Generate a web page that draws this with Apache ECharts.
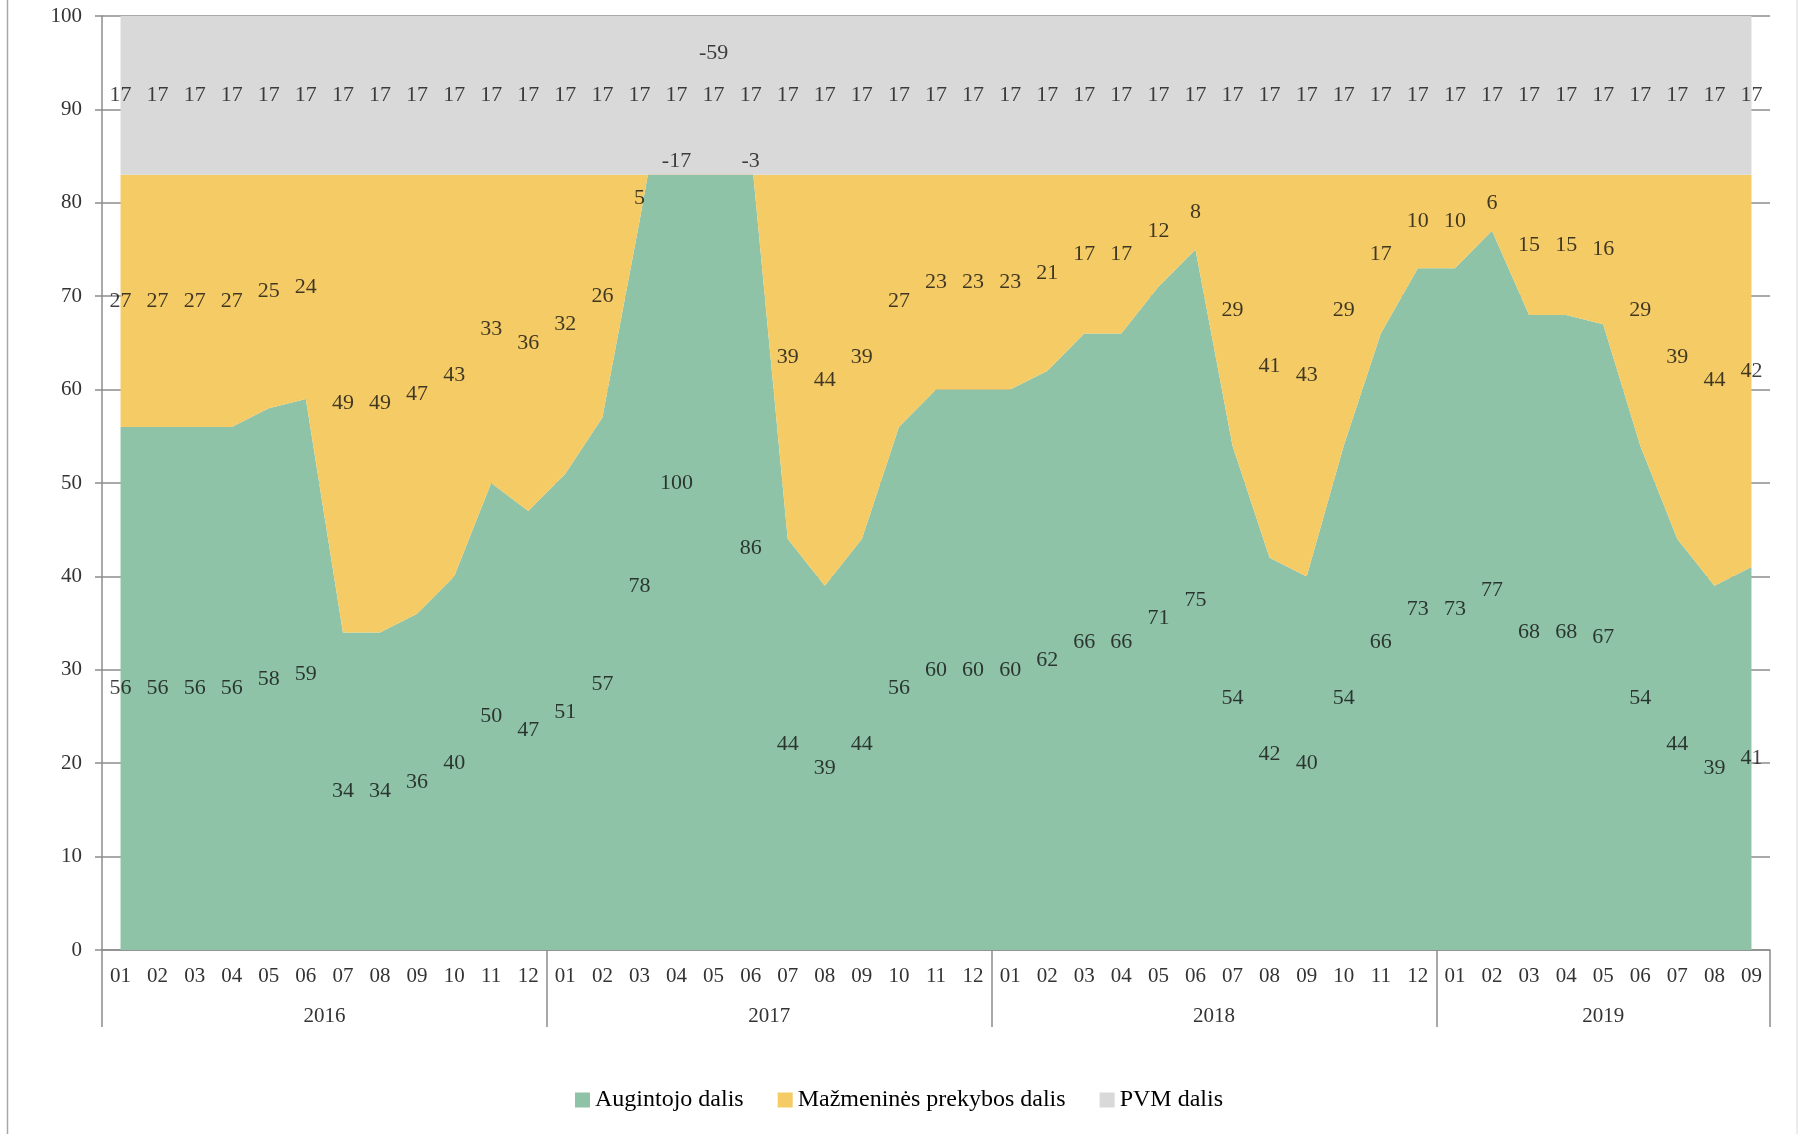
<!DOCTYPE html>
<html>
<head>
<meta charset="utf-8">
<title>Augintojo, mažmeninės prekybos ir PVM dalis</title>
<script src="https://cdn.jsdelivr.net/npm/echarts@6/dist/echarts.min.js"></script>
<style>
  html, body { margin: 0; padding: 0; background: #fff; }
  #chart { width: 1798px; height: 1134px; }
</style>
</head>
<body>
<div id="chart"></div>
<script>
// metai ir menesiai (ketvirta metai - tik iki 09)
const years = ['2016', '2017', '2018', '2019']
const monthsPerYear = [12, 12, 12, 9]
const months = [
  '01', '02', '03', '04', '05', '06', '07', '08', '09', '10', '11', '12',
  '01', '02', '03', '04', '05', '06', '07', '08', '09', '10', '11', '12',
  '01', '02', '03', '04', '05', '06', '07', '08', '09', '10', '11', '12',
  '01', '02', '03', '04', '05', '06', '07', '08', '09'
]

// dalys, %
const augintojo = [
  56, 56, 56, 56, 58, 59, 34, 34, 36, 40, 50, 47,
  51, 57, 78, 100, 142, 86, 44, 39, 44, 56, 60, 60,
  60, 62, 66, 66, 71, 75, 54, 42, 40, 54, 66, 73,
  73, 77, 68, 68, 67, 54, 44, 39, 41
]
const mazmenines = [
  27, 27, 27, 27, 25, 24, 49, 49, 47, 43, 33, 36,
  32, 26, 5, -17, -59, -3, 39, 44, 39, 27, 23, 23,
  23, 21, 17, 17, 12, 8, 29, 41, 43, 29, 17, 10,
  10, 6, 15, 15, 16, 29, 39, 44, 42
]
const pvm = [
  17, 17, 17, 17, 17, 17, 17, 17, 17, 17, 17, 17,
  17, 17, 17, 17, 17, 17, 17, 17, 17, 17, 17, 17,
  17, 17, 17, 17, 17, 17, 17, 17, 17, 17, 17, 17,
  17, 17, 17, 17, 17, 17, 17, 17, 17
]
const names = ['Augintojo dalis', 'Mažmeninės prekybos dalis', 'PVM dalis']
const colors = ['#8EC3A7', '#F4CB65', '#D9D9D9']

const Y_MAX = 100
const serif = '"Liberation Serif", "Times New Roman", serif'

// metu ribos ir viduriai (mėnesių skalėje)
const yearBounds = [0]
monthsPerYear.forEach((n) => yearBounds.push(yearBounds[yearBounds.length - 1] + n))
const yearCenters = years.map((y, i) => (yearBounds[i] + yearBounds[i + 1]) / 2)

// etikečių padėtis - segmento vidurys (kaip Excel)
function labelPoints(vals, bases) {
  const out = []
  vals.forEach((v, i) => {
    const base = bases[i]
    const top = base + v
    let y = base + v / 2
    if (v >= 0 && top > Y_MAX) return
    if (y > Y_MAX) y = Y_MAX - 4
    else if (v < 0) y = top + 1.5
    out.push([i, y, v])
  })
  return out
}
const zeros = augintojo.map(() => 0)
const sum1 = augintojo.map((v, i) => v + mazmenines[i])

function labelSeries(data) {
  return {
    type: 'scatter',
    data: data,
    symbolSize: 1,
    itemStyle: { color: 'transparent' },
    silent: true,
    z: 10,
    label: {
      show: true,
      position: 'inside',
      formatter: (p) => String(p.value[2]),
      fontFamily: serif,
      fontSize: 22,
      color: '#111'
    }
  }
}

function areaSeries(idx, data) {
  return {
    name: names[idx],
    type: 'line',
    stack: 'visos',
    stackStrategy: 'all',
    data: data,
    symbol: 'none',
    lineStyle: { width: 0, opacity: 0 },
    areaStyle: { color: colors[idx], opacity: 1 },
    itemStyle: { color: colors[idx] },
    emphasis: { disabled: true }
  }
}

const myChart = echarts.init(document.getElementById('chart'))
const option = {
  animation: false,
  backgroundColor: '#fff',
  grid: { left: 102, right: 28, top: 16, bottom: 184, containLabel: false },
  legend: {
    data: names,
    top: 1083,
    left: 'center',
    icon: 'rect',
    itemWidth: 15,
    itemHeight: 15,
    itemGap: 34,
    textStyle: { fontFamily: serif, fontSize: 24, color: '#000' }
  },
  xAxis: [
    {
      type: 'category',
      data: months,
      boundaryGap: true,
      axisLine: { lineStyle: { color: '#8c8c8c', width: 1.5 } },
      axisTick: { show: false },
      axisLabel: { interval: 0, margin: 16, fontFamily: serif, fontSize: 21, color: '#333' }
    },
    {
      type: 'value',
      min: 0,
      max: months.length,
      position: 'bottom',
      axisLine: { show: false },
      splitLine: { show: false },
      axisTick: {
        show: true,
        length: 77,
        customValues: yearBounds,
        lineStyle: { color: '#8c8c8c', width: 1.5 }
      },
      axisLabel: {
        margin: 56,
        customValues: yearCenters,
        formatter: (v) => years[yearCenters.indexOf(v)] || '',
        fontFamily: serif,
        fontSize: 21,
        color: '#333'
      }
    }
  ],
  yAxis: {
    type: 'value',
    min: 0,
    max: Y_MAX,
    interval: 10,
    axisLine: { show: true, lineStyle: { color: '#8c8c8c', width: 1.5 } },
    axisTick: { show: true, length: 7, lineStyle: { color: '#8c8c8c', width: 1.5 } },
    splitLine: { lineStyle: { color: '#8c8c8c', width: 1.5 } },
    axisLabel: { margin: 20, fontFamily: serif, fontSize: 21, color: '#333' }
  },
  series: [
    areaSeries(0, augintojo),
    areaSeries(1, mazmenines),
    areaSeries(2, pvm),
    labelSeries(labelPoints(augintojo, zeros)),
    labelSeries(labelPoints(mazmenines, augintojo)),
    labelSeries(labelPoints(pvm, sum1))
  ],
  graphic: [
    { type: 'line', shape: { x1: 7.5, y1: 0, x2: 7.5, y2: 1134 }, style: { stroke: '#a6a6a6', lineWidth: 1.5 } },
    { type: 'line', shape: { x1: 1797, y1: 0, x2: 1797, y2: 1134 }, style: { stroke: '#d9d9d9', lineWidth: 1 } }
  ]
}
myChart.setOption(option, true)
</script>
</body>
</html>
